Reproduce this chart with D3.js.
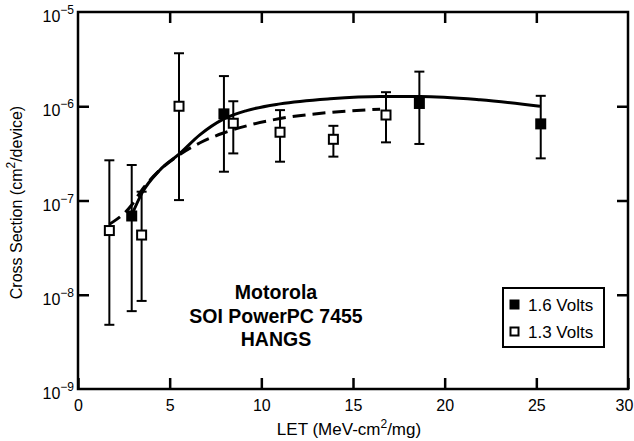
<!DOCTYPE html>
<html>
<head>
<meta charset="utf-8">
<script src="https://cdn.jsdelivr.net/npm/d3@7"></script>
<style>
  body { margin: 0; background: #fff; }
  svg { display: block; font-family: Arial, "Liberation Sans", sans-serif; }
</style>
</head>
<body>
<div id="chart"></div>
<script>
// 1.6 V measurements (filled squares)
const let16 = [2.93, 7.96, 18.62, 25.24];
const sig16 = [6.85e-8, 8.3e-7, 1.07e-6, 6.5e-7];
const lo16 = [6.7e-9, 2.02e-7, 3.98e-7, 2.8e-7];
const hi16 = [2.38e-7, 2.09e-6, 2.33e-6, 1.29e-6];

// 1.3 V measurements (open squares)
const let13 = [1.71, 3.47, 5.51, 8.47, 11.02, 13.93, 16.8];
const sig13 = [4.8e-8, 4.3e-8, 1.0e-6, 6.6e-7, 5.3e-7, 4.46e-7, 8.07e-7];
const lo13 = [4.8e-9, 8.6e-9, 1.01e-7, 3.16e-7, 2.58e-7, 2.92e-7, 4.14e-7];
const hi13 = [2.67e-7, 1.24e-7, 3.65e-6, 1.13e-6, 9.1e-7, 6.2e-7, 1.41e-6];

// fit curves
const fitLet16 = [2.93, 3.48, 4.47, 5.51, 6.66, 7.93, 9.2, 11.02, 13.75, 16.48, 18.66, 21.93, 25.2];
const fitSig16 = [7.0e-8, 1.19e-7, 2.11e-7, 3.1e-7, 5.0e-7, 7.3e-7, 9.0e-7, 1.06e-6, 1.2e-6, 1.27e-6, 1.27e-6, 1.17e-6, 1.0e-6];
const fitLet13 = [1.71, 2.93, 3.48, 4.47, 5.51, 6.66, 7.93, 9.2, 11.02, 13.75, 16.48];
const fitSig13 = [5.6e-8, 8.95e-8, 1.29e-7, 2.11e-7, 3.04e-7, 4.1e-7, 5.2e-7, 6.2e-7, 7.4e-7, 8.6e-7, 9.3e-7];

const xTicks = [0, 5, 10, 15, 20, 25, 30];
const yTicks = [1e-9, 1e-8, 1e-7, 1e-6, 1e-5];
const yExp = ['\u22129', '\u22128', '\u22127', '\u22126', '\u22125'];
const infoLines = ['Motorola', 'SOI PowerPC 7455', 'HANGS'];
const legendLabels = ['1.6 Volts', '1.3 Volts'];

const width = 634, height = 441;
const L = 78, R = 628, T = 12, B = 389;
const tick = 11;

const svg = d3.select('#chart').append('svg')
    .attr('width', width).attr('height', height);

const x = d3.scaleLinear().domain([0, 30]).range([L, R]);
const y = d3.scaleLog().domain([1e-9, 1e-5]).range([B, T]);

// Axes, ticks point inward on all four sides
const styleAx = (sel) => {
    sel.select('.domain').remove();
    sel.selectAll('line').attr('stroke', '#000').attr('stroke-width', 2.5);
};
svg.append('g').attr('transform', `translate(0,${B})`)
    .call(d3.axisBottom(x).tickValues(xTicks).tickSizeInner(-tick).tickSizeOuter(0).tickPadding(7))
    .call(styleAx)
    .call((s) => s.selectAll('text').attr('font-size', 16).attr('fill', '#000').attr('font-family', null).attr('dy', '0.95em')
        .attr('dx', (d) => d === 30 ? -4 : 0));
svg.append('g').attr('transform', `translate(0,${T})`)
    .call(d3.axisTop(x).tickValues(xTicks.slice(1, -1)).tickSizeInner(-tick).tickSizeOuter(0).tickFormat(''))
    .call(styleAx);
svg.append('g').attr('transform', `translate(${L},0)`)
    .call(d3.axisLeft(y).tickValues(yTicks.slice(1, -1)).tickSizeInner(-tick).tickSizeOuter(0).tickFormat(''))
    .call(styleAx);
svg.append('g').attr('transform', `translate(${R},0)`)
    .call(d3.axisRight(y).tickValues(yTicks.slice(1, -1)).tickSizeInner(-tick).tickSizeOuter(0).tickFormat(''))
    .call(styleAx);

svg.append('rect')
    .attr('x', L).attr('y', T).attr('width', R - L).attr('height', B - T)
    .attr('fill', 'none').attr('stroke', '#000').attr('stroke-width', 2.5);

// y tick labels 10^n
const yl = svg.append('g').selectAll('text').data(yTicks).enter().append('text')
    .attr('x', 74).attr('y', (d) => y(d) + 10)
    .attr('text-anchor', 'end').attr('font-size', 16);
yl.append('tspan').text('10');
yl.append('tspan').attr('dy', -8).attr('font-size', 12).text((d, i) => yExp[i]);

// axis titles
const xt = svg.append('text').attr('x', 349).attr('y', 435)
    .attr('text-anchor', 'middle').attr('font-size', 17);
xt.append('tspan').text('LET (MeV-cm');
xt.append('tspan').attr('dy', -7).attr('font-size', 12).text('2');
xt.append('tspan').attr('dy', 7).text('/mg)');

const yt = svg.append('text')
    .attr('transform', `translate(22,${(T + B) / 2 + 2}) rotate(-90)`)
    .attr('text-anchor', 'middle').attr('font-size', 16);
yt.append('tspan').text('Cross Section (cm');
yt.append('tspan').attr('dy', -7).attr('font-size', 12).text('2');
yt.append('tspan').attr('dy', 7).text('/device)');

// fit curves
const line = d3.line().x((d) => x(d[0])).y((d) => y(d[1])).curve(d3.curveMonotoneX);
svg.append('path')
    .attr('d', line(fitLet13.map((v, i) => [v, fitSig13[i]])))
    .attr('fill', 'none').attr('stroke', '#000').attr('stroke-width', 3)
    .attr('stroke-dasharray', '13,7');
svg.append('path')
    .attr('d', line(fitLet16.map((v, i) => [v, fitSig16[i]])))
    .attr('fill', 'none').attr('stroke', '#000').attr('stroke-width', 3);

// error bars + markers
function drawSeries(lets, sig, lo, hi, filled) {
    const g = svg.append('g');
    const pts = lets.map((v, i) => ({ l: v, s: sig[i], lo: lo[i], hi: hi[i] }));
    const bar = g.selectAll('g.bar').data(pts).enter().append('g')
        .attr('stroke', '#000').attr('stroke-width', 2);
    bar.append('line')
        .attr('x1', (d) => x(d.l)).attr('x2', (d) => x(d.l))
        .attr('y1', (d) => y(d.lo)).attr('y2', (d) => y(d.hi));
    bar.append('line')
        .attr('x1', (d) => x(d.l) - 5).attr('x2', (d) => x(d.l) + 5)
        .attr('y1', (d) => y(d.hi)).attr('y2', (d) => y(d.hi));
    bar.append('line')
        .attr('x1', (d) => x(d.l) - 5).attr('x2', (d) => x(d.l) + 5)
        .attr('y1', (d) => y(d.lo)).attr('y2', (d) => y(d.lo));
    const sz = filled ? 11 : 9;
    g.selectAll('rect').data(pts).enter().append('rect')
        .attr('x', (d) => x(d.l) - sz / 2).attr('y', (d) => y(d.s) - sz / 2)
        .attr('width', sz).attr('height', sz)
        .attr('fill', filled ? '#000' : '#fff')
        .attr('stroke', filled ? 'none' : '#000').attr('stroke-width', 2);
}
drawSeries(let13, sig13, lo13, hi13, false);
drawSeries(let16, sig16, lo16, hi16, true);

// info text
svg.append('g').selectAll('text').data(infoLines).enter().append('text')
    .attr('x', 276).attr('y', (d, i) => 299 + i * 23.5)
    .attr('text-anchor', 'middle').attr('font-size', 19.5).attr('font-weight', 'bold')
    .text((d) => d);

// legend
const lg = svg.append('g');
lg.append('rect').attr('x', 503).attr('y', 288).attr('width', 101).attr('height', 59)
    .attr('fill', '#fff').attr('stroke', '#000').attr('stroke-width', 2);
legendLabels.forEach((t, i) => {
    const cy = 304.5 + i * 27;
    if (i === 0) {
        lg.append('rect').attr('x', 509.5).attr('y', cy - 5).attr('width', 10).attr('height', 10).attr('fill', '#000');
    } else {
        lg.append('rect').attr('x', 510.5).attr('y', cy - 4).attr('width', 8).attr('height', 8)
            .attr('fill', '#fff').attr('stroke', '#000').attr('stroke-width', 2);
    }
    lg.append('text').attr('x', 528).attr('y', cy + 6).attr('font-size', 17).text(t);
});
</script>
</body>
</html>
